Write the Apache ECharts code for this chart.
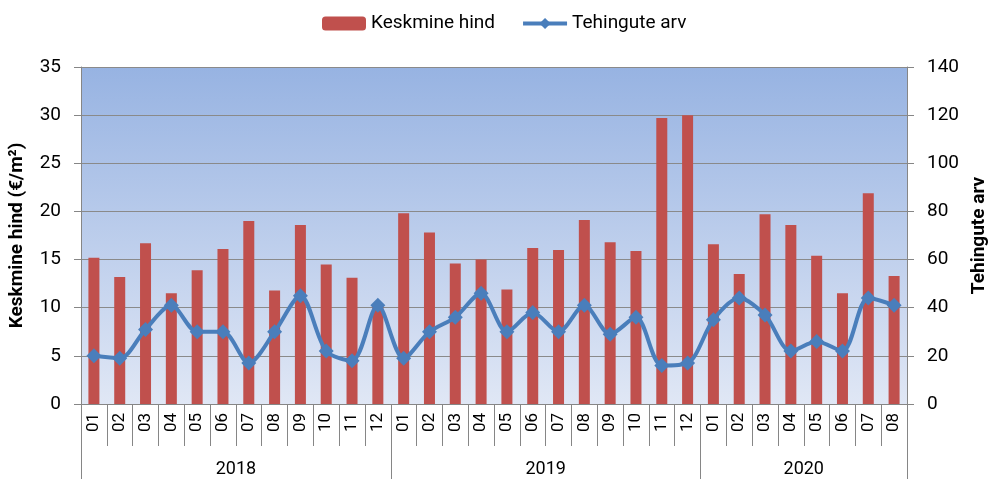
<!DOCTYPE html>
<html><head><meta charset="utf-8">
<script src="https://cdn.jsdelivr.net/npm/echarts@6/dist/echarts.min.js"></script>
<style>html,body{margin:0;padding:0;background:#fff}#c{width:989px;height:479px}</style>
</head><body><div id="c"></div>
<script>
const months = ['01','02','03','04','05','06','07','08','09','10','11','12',
  '01','02','03','04','05','06','07','08','09','10','11','12',
  '01','02','03','04','05','06','07','08'];
const years = ['2018','2019','2020'];
const yearCenters = [6, 18, 28];
const yearBounds = [0, 12, 24];
const priceValues = [15.2,13.2,16.7,11.5,13.9,16.1,19.0,11.8,18.6,14.5,13.1,10.3,
  19.8,17.8,14.6,15.0,11.9,16.2,16.0,19.1,16.8,15.9,29.7,30.0,
  16.6,13.5,19.7,18.6,15.4,11.5,21.9,13.3];
const dealValues = [20,19,31,41,30,30,17,30,45,22,18,41,
  19,30,36,46,30,38,30,41,29,36,16,17,
  35,44,37,22,26,22,44,41];
const seriesNames = ['Keskmine hind','Tehingute arv'];
const leftName = 'Keskmine hind (€/m²)';
const rightName = 'Tehingute arv';

const FONT = 'Roboto,sans-serif';
const axisGray = '#868686';
const lineBlue = '#4a7ebb';
const G = {left: 81, right: 82, top: 67, bottom: 75, outerBoundsMode: 'none', containLabel: false};
const chart = echarts.init(document.getElementById('c'));
chart.setOption({
  animation: false,
  textStyle: {fontFamily: FONT},
  legend: {
    top: 9, left: 317, itemGap: 26, itemWidth: 44, itemHeight: 14,
    textStyle: {fontFamily: FONT, fontSize: 19, color: '#000'},
    data: [{name: seriesNames[0]},
           {name: seriesNames[1], lineStyle: {width: 4, color: lineBlue}}]
  },
  grid: [
    Object.assign({show: true, borderWidth: 0,
      backgroundColor: {type: 'linear', x: 0, y: 0, x2: 0, y2: 1,
        colorStops: [{offset: 0, color: '#97b3e2'}, {offset: 1, color: '#e0e7f5'}]}}, G),
    Object.assign({}, G),
    Object.assign({}, G)
  ],
  xAxis: [
    {gridIndex: 0, type: 'category', data: months, position: 'bottom',
      axisLine: {show: true, lineStyle: {color: axisGray}},
      axisTick: {show: true, length: 42, interval: 0, lineStyle: {color: axisGray}},
      axisLabel: {rotate: 90, fontSize: 17, color: '#000', margin: 9, fontFamily: FONT, interval: 0}},
    {gridIndex: 1, type: 'category', data: months, position: 'bottom',
      axisLine: {show: false},
      axisTick: {show: true, length: 76, lineStyle: {color: axisGray},
        interval: (i) => yearBounds.includes(i)},
      axisLabel: {show: false}},
    {gridIndex: 2, type: 'value', min: 0, max: months.length, interval: 2, position: 'bottom',
      axisLine: {show: false}, axisTick: {show: false}, splitLine: {show: false},
      axisLabel: {show: true, margin: 56, fontSize: 18, color: '#000', fontFamily: FONT,
        formatter: (v) => { const k = yearCenters.indexOf(v); return k >= 0 ? years[k] : ''; }}}
  ],
  yAxis: [
    {gridIndex: 0, type: 'value', min: 0, max: 35, interval: 5, name: leftName,
      nameLocation: 'middle', nameRotate: 90, nameGap: 54,
      nameTextStyle: {fontSize: 19, fontWeight: 'bold', color: '#000', fontFamily: FONT},
      axisLine: {show: true, lineStyle: {color: axisGray}},
      axisTick: {show: true, length: 7, lineStyle: {color: axisGray}},
      axisLabel: {fontSize: 19, color: '#000', margin: 20, fontFamily: FONT},
      splitLine: {lineStyle: {color: '#8a8a8a', width: 1}}},
    {gridIndex: 0, type: 'value', min: 0, max: 140, interval: 20, name: rightName, position: 'right',
      nameLocation: 'middle', nameRotate: 90, nameGap: 62,
      nameTextStyle: {fontSize: 19, fontWeight: 'bold', color: '#000', fontFamily: FONT},
      axisLine: {show: true, lineStyle: {color: axisGray}},
      axisTick: {show: true, length: 7, lineStyle: {color: axisGray}},
      axisLabel: {fontSize: 19, color: '#000', margin: 20, fontFamily: FONT},
      splitLine: {show: false}},
    {gridIndex: 1, type: 'value', show: false},
    {gridIndex: 2, type: 'value', show: false}
  ],
  series: [
    {name: seriesNames[0], type: 'bar', data: priceValues, xAxisIndex: 0, yAxisIndex: 0,
      barWidth: 11, itemStyle: {color: '#c0504d'}},
    {name: seriesNames[1], type: 'line', data: dealValues, xAxisIndex: 0, yAxisIndex: 1,
      smooth: 0.3, symbol: 'diamond', symbolSize: 15,
      lineStyle: {color: lineBlue, width: 4},
      itemStyle: {color: lineBlue}}
  ]
});
</script></body></html>
